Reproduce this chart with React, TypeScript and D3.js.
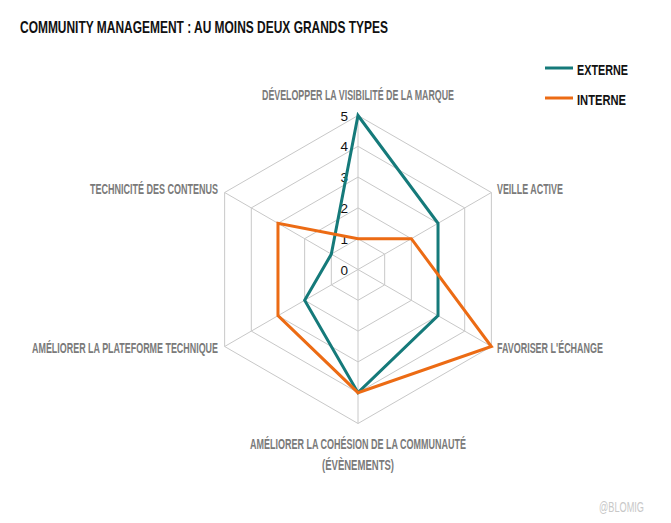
import React from "react";
import * as d3 from "d3";

const axes = [
  ["DÉVELOPPER LA VISIBILITÉ DE LA MARQUE"],
  ["VEILLE ACTIVE"],
  ["FAVORISER L'ÉCHANGE"],
  ["AMÉLIORER LA COHÉSION DE LA COMMUNAUTÉ", "(ÉVÈNEMENTS)"],
  ["AMÉLIORER LA PLATEFORME TECHNIQUE"],
  ["TECHNICITÉ DES CONTENUS"],
];
const externe = [5, 3, 3, 4, 2, 1];
const interne = [1, 2, 5, 4, 3, 3];
const ticks = [0, 1, 2, 3, 4, 5];
const seriesNames = ["EXTERNE", "INTERNE"];
const title = "COMMUNITY MANAGEMENT : AU MOINS DEUX GRANDS TYPES";
const credit = "@BLOMIG";

const colors = ["#157a7a", "#ec6b14"];
const labelWidths = [[192], [66], [106], [216, 72], [186], [128]];

export default function App() {
  const W = 671, H = 523;
  const cx = 358, cy = 269.5;
  const r = d3.scaleLinear().domain([0, 5]).range([0, 154]);
  const n = axes.length;
  const ang = (i: number) => (i * 2 * Math.PI) / n;
  const pt = (i: number, v: number) => [cx + r(v) * Math.sin(ang(i)), cy - r(v) * Math.cos(ang(i))];

  const radial = d3
    .lineRadial<number>()
    .angle((_, i) => ang(i))
    .radius((d) => r(d))
    .curve(d3.curveLinearClosed);

  const labelFont = "'Liberation Sans', Arial, sans-serif";
  const data = [externe, interne];

  return (
    <svg width={W} height={H} style={{ position: "absolute", left: 0, top: 0, background: "#fff" }}>
      <rect width={W} height={H} fill="#fff" />
      <text x={20} y={33} fontFamily={labelFont} fontWeight="bold" fontSize={16.5} fill="#111"
        textLength={368} lengthAdjust="spacingAndGlyphs">{title}</text>

      {/* grid */}
      {ticks.slice(1).map((t) => (
        <polygon key={t}
          points={axes.map((_, i) => pt(i, t).join(",")).join(" ")}
          fill="none" stroke="#c8c8c8" strokeWidth={1} />
      ))}
      {axes.map((_, i) => {
        const [x, y] = pt(i, 5);
        return <line key={i} x1={cx} y1={cy} x2={x} y2={y} stroke="#c8c8c8" strokeWidth={1} />;
      })}

      {/* tick labels */}
      {ticks.map((t) => (
        <text key={t} x={348} y={cy - r(t) + 5} textAnchor="end" fontFamily={labelFont}
          fontSize={13.5} fill="#111">{t}</text>
      ))}

      {/* series */}
      {data.map((d, k) => (
        <path key={k} d={radial(d) || ""} transform={`translate(${cx},${cy})`}
          fill="none" stroke={colors[k]} strokeWidth={3} strokeLinejoin="miter" />
      ))}

      {/* axis labels */}
      {axes.map((lines, i) => {
        const [vx, vy] = pt(i, 5);
        const a = ang(i);
        const s = Math.sin(a);
        let x = vx, y = vy, anchor = "middle";
        if (Math.abs(s) < 0.01) {
          if (Math.cos(a) > 0) y = vy - 16;
          else y = vy + 25.5;
        } else {
          anchor = s > 0 ? "start" : "end";
          x = vx + (s > 0 ? 5.6 : -6.6);
          y = vy + (Math.cos(a) > 0 ? 1.5 : 6.5);
        }
        return (
          <g key={i}>
            {lines.map((l, j) => (
              <text key={j} x={x} y={y + j * 21} textAnchor={anchor} fontFamily={labelFont}
                fontWeight="bold" fontSize={14} fill="#7a7a7a"
                textLength={labelWidths[i][j]} lengthAdjust="spacingAndGlyphs">{l}</text>
            ))}
          </g>
        );
      })}

      {/* legend */}
      {seriesNames.map((s, k) => (
        <g key={s}>
          <line x1={545} x2={573} y1={68 + k * 30} y2={68 + k * 30} stroke={colors[k]} strokeWidth={3} />
          <text x={577} y={74.5 + k * 30} fontFamily={labelFont} fontWeight="bold" fontSize={15.5}
            fill="#111" textLength={k === 0 ? 51 : 49} lengthAdjust="spacingAndGlyphs">{s}</text>
        </g>
      ))}

      <text x={599} y={512} fontFamily={labelFont} fontSize={14} fill="#c8c8c8"
        textLength={45} lengthAdjust="spacingAndGlyphs">{credit}</text>
    </svg>
  );
}
